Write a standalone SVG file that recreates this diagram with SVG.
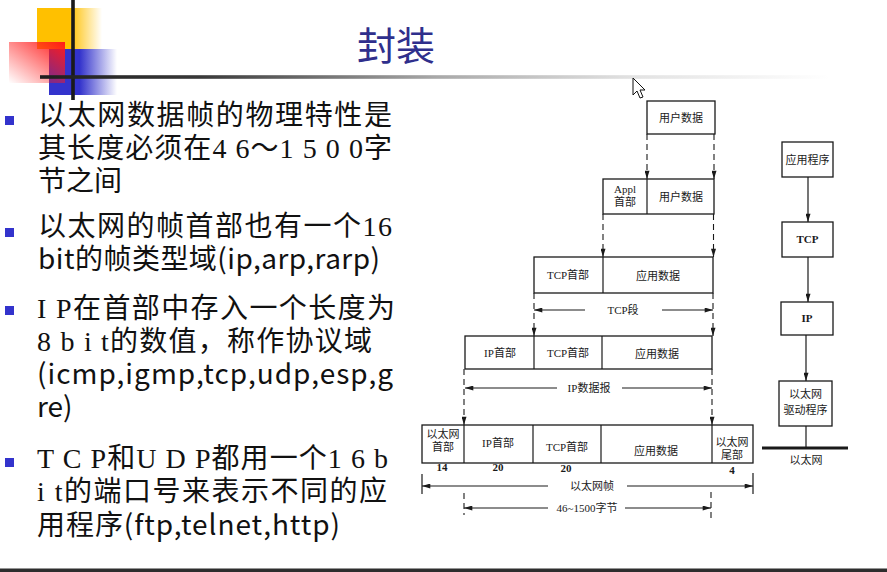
<svg xmlns="http://www.w3.org/2000/svg" width="887" height="572" viewBox="0 0 887 572">
  <defs>
    <linearGradient id="yellowFade" x1="0" y1="0" x2="1" y2="0">
      <stop offset="0" stop-color="#FFC000"/>
      <stop offset="0.5" stop-color="#FFC000"/>
      <stop offset="1" stop-color="#FFC000" stop-opacity="0"/>
    </linearGradient>
    <linearGradient id="blueFade" x1="0" y1="0" x2="1" y2="0">
      <stop offset="0" stop-color="#3333CC"/>
      <stop offset="0.45" stop-color="#3333CC"/>
      <stop offset="1" stop-color="#3333CC" stop-opacity="0"/>
    </linearGradient>
    <linearGradient id="redFade" x1="1" y1="0" x2="0" y2="1">
      <stop offset="0" stop-color="#FF1A1A"/>
      <stop offset="1" stop-color="#FF1A1A" stop-opacity="0"/>
    </linearGradient>
    <linearGradient id="ruleFade" gradientUnits="userSpaceOnUse" x1="40" y1="0" x2="830" y2="0">
      <stop offset="0" stop-color="#1e1e1e"/>
      <stop offset="0.2" stop-color="#383838"/>
      <stop offset="0.5" stop-color="#a8a8a8"/>
      <stop offset="0.75" stop-color="#e2e2e2"/>
      <stop offset="1" stop-color="#ffffff"/>
    </linearGradient>
    <marker id="arrow" viewBox="0 0 10 6" refX="10" refY="3" markerWidth="10" markerHeight="5" markerUnits="userSpaceOnUse" orient="auto-start-reverse">
      <path d="M0,0 L10,3 L0,6 z" fill="#1a1a1a"/>
    </marker>
  </defs>
  <style>
    .body { font-family: "Noto Sans CJK SC", "Liberation Sans", sans-serif; font-size: 28px; fill: #111; }
    .ser { font-family: "Liberation Serif", "Noto Sans CJK SC", serif; }
    .bullet { fill: #3333CC; }
    .box { fill: #fff; stroke: #1a1a1a; stroke-width: 1.3; }
    .div { stroke: #1a1a1a; stroke-width: 1.2; }
    .lbl { font-family: "Liberation Serif", "Noto Sans CJK SC", serif; font-size: 11px; fill: #1a1a1a; text-anchor: middle; }
    .num { font-family: "Liberation Serif", serif; font-size: 11px; font-weight: bold; fill: #1a1a1a; text-anchor: middle; }
    .dash { stroke: #1a1a1a; stroke-width: 1.1; stroke-dasharray: 6 4; fill: none; }
    .solid { stroke: #1a1a1a; stroke-width: 1.2; fill: none; }
  </style>

  <rect width="887" height="572" fill="#ffffff"/>

  <!-- title block decoration -->
  <g id="header">
    <rect x="37" y="8" width="65" height="41" fill="url(#yellowFade)"/>
    <rect x="49" y="49" width="68" height="46" fill="url(#blueFade)"/>
    <rect x="9" y="42" width="56" height="41" fill="url(#redFade)"/>
    <rect x="71.2" y="0" width="3.6" height="100" fill="#1a1a1a"/>
    <rect x="40" y="75.2" width="790" height="3.6" fill="url(#ruleFade)"/>
    <text x="396" y="60" text-anchor="middle" font-family="Noto Sans CJK SC, sans-serif" font-size="39" fill="#2f2f8c">封装</text>
  </g>

  <!-- mouse pointer -->
  <path d="M633,78 L633,95 L637,91 L640,98 L643,97 L640,90 L645,90 Z" fill="#fff" stroke="#111" stroke-width="1"/>

  <!-- bullet list -->
  <g id="bullets">
    <rect class="bullet" x="5" y="116" width="9" height="9"/>
    <rect class="bullet" x="5" y="228" width="9" height="9"/>
    <rect class="bullet" x="5" y="306" width="9" height="9"/>
    <rect class="bullet" x="5" y="458" width="9" height="9"/>

    <text class="body" x="38" y="125" textLength="354" lengthAdjust="spacing">以太网数据帧的物理特性是</text>
    <text class="body" x="38" y="158" textLength="354" lengthAdjust="spacing">其长度必须在<tspan class="ser">4 6</tspan>～<tspan class="ser">1 5 0 0</tspan>字</text>
    <text class="body" x="38" y="191">节之间</text>

    <text class="body" x="38" y="236" textLength="354" lengthAdjust="spacing">以太网的帧首部也有一个<tspan class="ser">16</tspan></text>
    <text class="body" x="38" y="269" textLength="342" lengthAdjust="spacing">bit的帧类型域(ip,arp,rarp)</text>

    <text class="body" x="37" y="318" textLength="358" lengthAdjust="spacing"><tspan class="ser">I P</tspan>在首部中存入一个长度为</text>
    <text class="body" x="37" y="351" textLength="335" lengthAdjust="spacing"><tspan class="ser">8 b i t</tspan>的数值，称作协议域</text>
    <text class="body" x="37" y="384" textLength="356" lengthAdjust="spacing">(icmp,igmp,tcp,udp,esp,g</text>
    <text class="body" x="37" y="417">re)</text>

    <text class="body" x="37" y="468" textLength="351" lengthAdjust="spacing"><tspan class="ser">T C P</tspan>和<tspan class="ser">U D P</tspan>都用一个<tspan class="ser">1 6 b</tspan></text>
    <text class="body" x="37" y="501" textLength="350" lengthAdjust="spacing"><tspan class="ser">i t</tspan>的端口号来表示不同的应</text>
    <text class="body" x="37" y="535" textLength="303" lengthAdjust="spacing">用程序(ftp,telnet,http)</text>
  </g>

  <!-- encapsulation stack -->
  <g id="user-data">
    <rect class="box" x="647" y="101" width="68" height="33"/>
    <text class="lbl" x="681" y="122">用户数据</text>
  </g>

  <g id="appl-message">
    <rect class="box" x="603" y="179" width="111" height="35"/>
    <line class="div" x1="647" y1="179" x2="647" y2="214"/>
    <text class="lbl" x="625" y="193" font-size="9">Appl</text>
    <text class="lbl" x="625" y="206">首部</text>
    <text class="lbl" x="681" y="201">用户数据</text>
  </g>

  <g id="tcp-segment">
    <rect class="box" x="534" y="257" width="179" height="36"/>
    <line class="div" x1="603" y1="257" x2="603" y2="293"/>
    <text class="lbl" x="568" y="279">TCP首部</text>
    <text class="lbl" x="658" y="280">应用数据</text>
  </g>

  <g id="ip-datagram">
    <rect class="box" x="465" y="336" width="247" height="33"/>
    <line class="div" x1="534" y1="336" x2="534" y2="369"/>
    <line class="div" x1="602" y1="336" x2="602" y2="369"/>
    <text class="lbl" x="500" y="357">IP首部</text>
    <text class="lbl" x="568" y="357">TCP首部</text>
    <text class="lbl" x="657" y="358">应用数据</text>
  </g>

  <g id="ethernet-frame">
    <rect class="box" x="422" y="425" width="331" height="38"/>
    <line class="div" x1="464" y1="425" x2="464" y2="463"/>
    <line class="div" x1="533" y1="425" x2="533" y2="463"/>
    <line class="div" x1="601" y1="425" x2="601" y2="463"/>
    <line class="div" x1="712" y1="425" x2="712" y2="463"/>
    <text class="lbl" x="443" y="438">以太网</text>
    <text class="lbl" x="443" y="451">首部</text>
    <text class="lbl" x="498" y="447">IP首部</text>
    <text class="lbl" x="567" y="451">TCP首部</text>
    <text class="lbl" x="656" y="455">应用数据</text>
    <text class="lbl" x="732" y="446">以太网</text>
    <text class="lbl" x="732" y="459">尾部</text>
    <text class="num" x="442" y="471">14</text>
    <text class="num" x="498" y="471">20</text>
    <text class="num" x="566" y="472">20</text>
    <text class="num" x="732" y="474">4</text>
  </g>

  <!-- protocol layers -->
  <g id="layer-app">
    <rect class="box" x="782" y="142" width="51" height="35"/>
    <text class="lbl" x="807.5" y="164">应用程序</text>
  </g>
  <g id="layer-tcp">
    <rect class="box" x="782" y="222" width="51" height="35"/>
    <text class="lbl" x="807.5" y="243" font-weight="bold">TCP</text>
  </g>
  <g id="layer-ip">
    <rect class="box" x="781" y="302" width="52" height="33"/>
    <text class="lbl" x="807" y="322" font-weight="bold">IP</text>
  </g>
  <g id="layer-driver">
    <rect class="box" x="779" y="381" width="53" height="45"/>
    <text class="lbl" x="805.5" y="398">以太网</text>
    <text class="lbl" x="805.5" y="414">驱动程序</text>
  </g>
  <g id="ethernet-bus">
    <line x1="762" y1="448" x2="848" y2="448" stroke="#1a1a1a" stroke-width="3"/>
    <text class="lbl" x="806" y="464">以太网</text>
  </g>

  <!-- connectors -->
  <g id="connectors">
    <line class="dash" x1="647" y1="134" x2="647" y2="179" marker-end="url(#arrow)"/>
    <line class="dash" x1="714" y1="134" x2="714" y2="179" marker-end="url(#arrow)"/>
    <line class="dash" x1="603" y1="214" x2="603" y2="257" marker-end="url(#arrow)"/>
    <line class="dash" x1="713.5" y1="214" x2="713.5" y2="257" marker-end="url(#arrow)"/>
    <line class="dash" x1="534" y1="293" x2="534" y2="336" marker-end="url(#arrow)"/>
    <line class="dash" x1="713" y1="293" x2="713" y2="336" marker-end="url(#arrow)"/>
    <line class="dash" x1="464" y1="369" x2="464" y2="425" marker-end="url(#arrow)"/>
    <line class="dash" x1="712" y1="369" x2="712" y2="425" marker-end="url(#arrow)"/>

    <!-- span markers -->
    <line class="solid" x1="585" y1="310" x2="534" y2="310" marker-end="url(#arrow)"/>
    <line class="solid" x1="662" y1="310" x2="713" y2="310" marker-end="url(#arrow)"/>
    <text class="lbl" x="623" y="314">TCP段</text>

    <line class="solid" x1="557" y1="388" x2="465" y2="388" marker-end="url(#arrow)"/>
    <line class="solid" x1="622" y1="388" x2="712" y2="388" marker-end="url(#arrow)"/>
    <text class="lbl" x="589" y="392">IP数据报</text>

    <line class="solid" x1="422" y1="474" x2="422" y2="494"/>
    <line class="solid" x1="753" y1="473" x2="753" y2="494"/>
    <line class="solid" x1="548" y1="486" x2="422" y2="486" marker-end="url(#arrow)"/>
    <line class="solid" x1="627" y1="486" x2="753" y2="486" marker-end="url(#arrow)"/>
    <text class="lbl" x="592" y="490">以太网帧</text>

    <line class="dash" x1="464" y1="493" x2="464" y2="515"/>
    <line class="dash" x1="711" y1="492" x2="711" y2="520"/>
    <line class="solid" x1="548" y1="508" x2="464" y2="508" marker-end="url(#arrow)"/>
    <line class="solid" x1="625" y1="508" x2="711" y2="508" marker-end="url(#arrow)"/>
    <text class="lbl" x="587" y="512">46~1500字节</text>

    <line class="solid" x1="808" y1="177" x2="808" y2="222" marker-end="url(#arrow)"/>
    <line class="solid" x1="808" y1="257" x2="808" y2="302" marker-end="url(#arrow)"/>
    <line class="solid" x1="806" y1="335" x2="806" y2="381" marker-end="url(#arrow)"/>
    <line class="solid" x1="806" y1="426" x2="806" y2="448"/>
  </g>

  <!-- footer rule -->
  <rect x="0" y="568.5" width="887" height="3.5" fill="#2d2d2d"/>
</svg>
